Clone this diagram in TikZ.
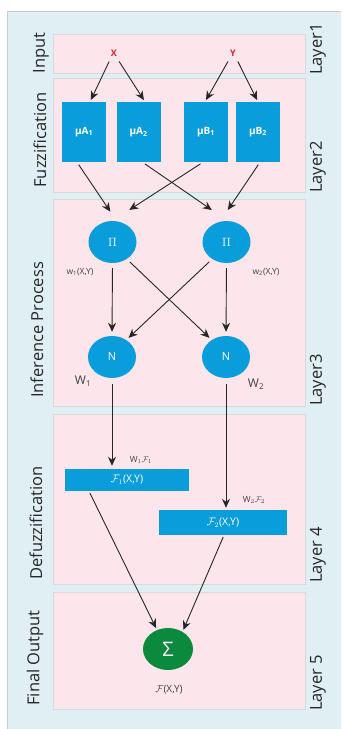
\documentclass[tikz,border=0pt]{standalone}
\usepackage{fontspec}
\setmainfont{Open Sans}
\setsansfont{Open Sans}
\usetikzlibrary{arrows.meta, shapes.geometric}

\definecolor{bgblue}{HTML}{DFEFF4}
\definecolor{layerpink}{HTML}{FCE6EB}
\definecolor{fuzzblue}{HTML}{0A9DDB}
\definecolor{sumgreen}{HTML}{0B8A3E}
\definecolor{inred}{HTML}{E0212A}

\begin{document}
\begin{tikzpicture}[
    x=1pt, y=-1pt,
    every node/.style={font=\sffamily},
    >={Stealth[length=9pt,width=8pt]},
    arr/.style={->, line width=0.9pt, black!85},
    panel/.style={fill=layerpink, draw=black!15, line width=0.5pt},
    layername/.style={rotate=90, font=\sffamily\fontsize{16.5}{16.5}\selectfont, text=black!85},
    inlabel/.style={text=inred, font=\sffamily\bfseries\fontsize{9}{9}\selectfont},
    mfbox/.style={rectangle, fill=fuzzblue, minimum width=44pt, minimum height=60pt,
        inner sep=0pt, text=white, font=\sffamily\bfseries\fontsize{10}{10}\selectfont},
    neuron/.style={ellipse, fill=fuzzblue, minimum width=48pt, minimum height=42pt,
        inner sep=0pt, text=white, font=\sffamily\fontsize{11}{11}\selectfont},
    rulebox/.style={rectangle, fill=fuzzblue, minimum height=22pt, inner sep=0pt,
        text=white, font=\sffamily\fontsize{10.5}{10.5}\selectfont},
    wlabel/.style={font=\sffamily\fontsize{8.5}{8.5}\selectfont, text=black!75},
    nlabel/.style={font=\sffamily\fontsize{12}{12}\selectfont, text=black!75},
]

% === Canvas and background panel ===
\useasboundingbox (0,0) rectangle (341,729);
\fill[white] (0,0) rectangle (341,729);
\fill[bgblue] (7,11) rectangle (341,729);
\draw[black!20, line width=0.6pt] (7,729) -- (7,11) -- (341,11);

% === Layer panels (top/bottom) ===
\foreach \ytop/\ybot in {34/73, 78/192, 199/406, 414/584, 592/709} {
    \draw[panel] (53,\ytop) rectangle (305,\ybot);
}

% === Stage names (left) and layer names (right) ===
\foreach \i/\xx/\yy/\txt in {1/41/53/Input, 2/40/140/Fuzzification,
        3/37/330/Inference Process, 4/36/523/Defuzzification, 5/35/658/Final Output} {
    \node[layername] (stage\i) at (\xx,\yy) {\txt};
}
\foreach \i/\yy/\txt in {1/49/Layer1, 2/167/Layer2, 3/380/Layer3,
        4/555/Layer 4, 5/683/Layer 5} {
    \node[layername] (layer\i) at (318,\yy) {\txt};
}

% === Layer 1: inputs ===
\node[inlabel] (xin) at (114,53) {X};
\node[inlabel] (yin) at (233,53) {Y};

% === Layer 2: membership functions ===
\node[mfbox] (muA1) at (84,132)   {μA\textsubscript{1}};
\node[mfbox] (muA2) at (138.5,132) {μA\textsubscript{2}};
\node[mfbox] (muB1) at (206,132)  {μB\textsubscript{1}};
\node[mfbox] (muB2) at (258,132)  {μB\textsubscript{2}};

% === Layer 3: product and normalisation ===
\node[neuron, font=\fontsize{13}{13}\selectfont] (pi1) at (112.5,242) {$\Pi$};
\node[neuron, font=\fontsize{13}{13}\selectfont] (pi2) at (226.5,242) {$\Pi$};
\node[neuron] (nrm1) at (112,357) {N};
\node[neuron] (nrm2) at (226,357) {N};
\node[wlabel] (w1) at (80,272)  {w\textsubscript{1}(X,Y)};
\node[wlabel] (w2) at (266,272) {w\textsubscript{2}(X,Y)};
\node[nlabel] (bw1) at (83,381)  {W\textsubscript{1}};
\node[nlabel] (bw2) at (256,384) {W\textsubscript{2}};

% === Layer 4: rule outputs ===
\node[rulebox, minimum width=124pt] (f1) at (127,480) {$\mathcal{F}_1$(X,Y)};
\node[rulebox, minimum width=128pt, minimum height=25pt] (f2) at (223,522.5) {$\mathcal{F}_2$(X,Y)};
\node[wlabel] (wf1) at (141,460) {W$_1\mathcal{F}_1$};
\node[wlabel] (wf2) at (254,500) {W$_2\mathcal{F}_2$};

% === Layer 5: summation ===
\node[neuron, fill=sumgreen, minimum width=50pt, font=\sffamily\fontsize{20}{20}\selectfont] (sum) at (168,649) {Σ};
\node[wlabel, font=\sffamily\fontsize{10}{10}\selectfont] (fout) at (169,690) {$\mathcal{F}$(X,Y)};

% === Connectors ===
% inputs -> membership functions
\draw[arr, shorten <=2pt, shorten >=2pt] ([xshift=-4pt]xin.south) -- ([xshift=6pt]muA1.north);
\draw[arr, shorten <=2pt, shorten >=2pt] ([xshift=4pt]xin.south) -- ([xshift=6.5pt]muA2.north);
\draw[arr, shorten <=2pt, shorten >=2pt] ([xshift=-4pt]yin.south) -- ([xshift=-1pt]muB1.north);
\draw[arr, shorten <=2pt, shorten >=2pt] ([xshift=4pt]yin.south) -- (muB2.north);
% membership functions -> product nodes
\draw[arr, shorten <=3pt, shorten >=11pt] ([xshift=-7pt]muA1.south) -- ([xshift=4pt]pi1.north);
\draw[arr, shorten <=3pt, shorten >=20pt] ([xshift=-3pt]muB1.south) -- (pi1.north);
\draw[arr, shorten <=3pt, shorten >=19pt] ([xshift=4pt]muA2.south) -- ([xshift=1pt]pi2.north);
\draw[arr, shorten <=3pt, shorten >=13pt] ([xshift=2pt]muB2.south) -- ([xshift=-6pt]pi2.north);
% product -> normalisation
\draw[arr, shorten <=5pt, shorten >=4pt] (pi1.south) -- (nrm1.north);
\draw[arr, shorten <=4pt, shorten >=3pt] (pi1.-50) -- (nrm2.130);
\draw[arr, shorten <=4pt, shorten >=3pt] (pi2.-130) -- (nrm1.50);
\draw[arr, shorten <=5pt, shorten >=4pt] (pi2.south) -- (nrm2.north);
% normalisation -> rule outputs
\draw[arr, shorten <=6pt, shorten >=3pt] (nrm1.south) -- ([xshift=-15pt]f1.north);
\draw[arr, shorten <=6pt, shorten >=2pt] (nrm2.south) -- ([xshift=3pt]f2.north);
% rule outputs -> summation
\draw[arr, shorten <=2pt, shorten >=2pt] ([xshift=-38pt]f1.south) -- (sum.120);
\draw[arr, shorten <=2pt, shorten >=2pt] ([xshift=1pt]f2.south) -- (sum.50);

\end{tikzpicture}
\end{document}
